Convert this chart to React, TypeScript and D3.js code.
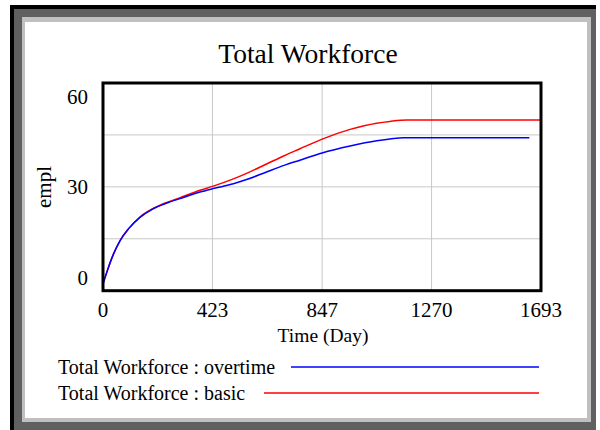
import React from "react";
import * as d3 from "d3";

const timeBasic = [0, 20, 40, 66, 100, 143, 190, 250, 298, 375, 426, 504, 555, 632, 700, 761, 847, 955, 1058, 1109, 1174, 1250, 1400, 1550, 1693];
const basicValues = [2, 6.5, 10.5, 14.5, 18.0, 21.3, 23.6, 25.6, 26.9, 29.0, 30.2, 32.3, 33.9, 36.6, 39.0, 41.0, 43.8, 46.6, 48.4, 48.9, 49.3, 49.3, 49.3, 49.3, 49.3];
const timeOvertime = [0, 20, 40, 66, 100, 143, 190, 250, 298, 375, 426, 504, 555, 632, 700, 761, 847, 955, 1058, 1109, 1161, 1250, 1400, 1550, 1648];
const overtimeValues = [2, 6.5, 10.5, 14.5, 18.0, 21.2, 23.5, 25.4, 26.6, 28.5, 29.5, 30.9, 32.1, 34.3, 36.2, 37.7, 39.8, 41.8, 43.3, 43.8, 44.2, 44.2, 44.2, 44.2, 44.2];

const xTicks = [0, 423, 847, 1270, 1693];
const yTicks = [0, 30, 60];
const yGrid = [15, 30, 45];
const xGrid = [423, 847, 1270];

const title = "Total Workforce";
const xLabel = "Time (Day)";
const yLabel = "empl";
const legendNames = ["Total Workforce : overtime", "Total Workforce : basic"];
const legendColors = ["#0000ff", "#ff0000"];

const FONT = "'Liberation Serif', 'Times New Roman', serif";

export default function App() {
  const x = d3.scaleLinear().domain([0, 1693]).range([103, 541]);
  const y = d3.scaleLinear().domain([0, 60]).range([290.7, 83]);

  const line = d3
    .line<[number, number]>()
    .x((d) => x(d[0]))
    .y((d) => y(d[1]))
    .curve(d3.curveMonotoneX);

  const basicPts = timeBasic.map((t, i) => [t, basicValues[i]] as [number, number]);
  const overPts = timeOvertime.map((t, i) => [t, overtimeValues[i]] as [number, number]);

  const yLabelPos = (v: number) => {
    if (v === 60) return y(v) + 21;
    if (v === 0) return y(v) - 6;
    return y(v) + 7;
  };

  return (
    <svg
      width={600}
      height={430}
      style={{ position: "absolute", left: 0, top: 0, background: "#fff" }}
      fontFamily={FONT}
    >
      {/* frame */}
      <rect x={10} y={5} width={586} height={425} fill="#606060" />
      <rect x={10} y={5} width={586} height={4} fill="#000" />
      <rect x={10} y={5} width={4} height={425} fill="#000" />
      <rect x={22} y={17} width={569} height={405} fill="#c0c0c0" />
      <rect x={25} y={22} width={562} height={396} fill="#fff" />

      <text x={308} y={63} textAnchor="middle" fontSize={27.5} fill="#000">
        {title}
      </text>

      {/* grid */}
      {xGrid.map((t) => (
        <line key={"gx" + t} x1={x(t)} x2={x(t)} y1={y(60)} y2={y(0)} stroke="#c8c8c8" strokeWidth={1} />
      ))}
      {yGrid.map((v) => (
        <line key={"gy" + v} x1={x(0)} x2={x(1693)} y1={y(v)} y2={y(v)} stroke="#c8c8c8" strokeWidth={1} />
      ))}

      {/* lines */}
      <path d={line(basicPts) || ""} fill="none" stroke={legendColors[1]} strokeWidth={1.5} />
      <path d={line(overPts) || ""} fill="none" stroke={legendColors[0]} strokeWidth={1.5} />

      {/* plot border */}
      <rect
        x={x(0)}
        y={y(60)}
        width={x(1693) - x(0)}
        height={y(0) - y(60)}
        fill="none"
        stroke="#000"
        strokeWidth={3}
      />

      {/* ticks */}
      {yTicks.map((v) => (
        <text key={"yt" + v} x={88} y={yLabelPos(v)} textAnchor="end" fontSize={21} fill="#000">
          {v}
        </text>
      ))}
      {xTicks.map((t) => (
        <text key={"xt" + t} x={x(t)} y={317} textAnchor="middle" fontSize={21} fill="#000">
          {t}
        </text>
      ))}

      <text x={323} y={342} textAnchor="middle" fontSize={19.5} fill="#000">
        {xLabel}
      </text>
      <text
        transform={`translate(51, 187) rotate(-90)`}
        textAnchor="middle"
        fontSize={21}
        fill="#000"
      >
        {yLabel}
      </text>

      {/* legend */}
      <text x={58} y={374} fontSize={20} fill="#000">
        {legendNames[0]}
      </text>
      <line x1={291} x2={539} y1={367} y2={367} stroke={legendColors[0]} strokeWidth={1.5} />
      <text x={58} y={400} fontSize={20} fill="#000">
        {legendNames[1]}
      </text>
      <line x1={264} x2={539} y1={393} y2={393} stroke={legendColors[1]} strokeWidth={1.5} />
    </svg>
  );
}
